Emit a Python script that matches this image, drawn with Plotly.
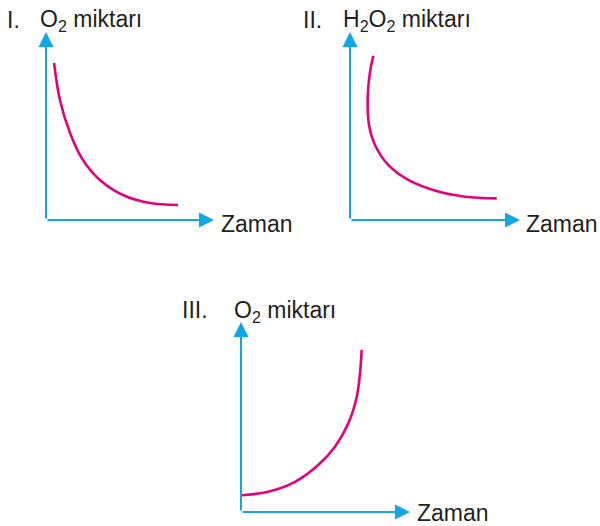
import plotly.graph_objects as go

W, H = 600, 526
AXIS_COLOUR = "#12a7e2"
CURVE_COLOUR = "#e5007d"
TEXT_COLOUR = "#231f20"
FONT = "Liberation Sans, Arial, sans-serif"

# curve values (time 0..10, amount 0..10)
time_1 = [0.48, 0.83, 1.43, 2.2, 3.21, 4.58, 6.19, 7.86]
o2_1 = [8.35, 6.38, 4.63, 3.19, 2.13, 1.33, 0.90, 0.80]

time_2 = [1.37, 1.18, 1.04, 1.12, 1.47, 2.25, 3.43, 5.19, 6.76, 8.63]
h2o2_2 = [8.74, 7.89, 6.47, 5.05, 3.99, 2.93, 2.13, 1.51, 1.24, 1.15]

time_3 = [0.05, 1.62, 3.20, 4.57, 5.56, 6.35, 6.85, 7.04, 7.14]
o2_3 = [0.88, 1.07, 1.59, 2.47, 3.44, 4.67, 6.07, 7.30, 8.53]

numerals = ["I.", "II.", "III."]
y_titles = ["O<sub>2</sub> miktarı", "H<sub>2</sub>O<sub>2</sub> miktarı", "O<sub>2</sub> miktarı"]
x_title = "Zaman"

# panel boxes in pixels: origin x, origin y, arrow tip x, arrow tip y
panels = [
    (46, 220, 214, 32),
    (350, 220, 520, 32),
    (241, 512, 410, 322),
]
# label positions in pixels: numeral (x, y), y title (x, y), x title (x, y)
label_pos = [
    ((5, 20), (38, 21), (219, 224)),
    ((301, 20), (341, 21), (524, 224)),
    ((180, 310), (232, 311), (415, 513)),
]

PAD = 0.5
fig = go.Figure()
series = [(time_1, o2_1), (time_2, h2o2_2), (time_3, o2_3)]

for i, ((ox, oy, tx, ty), (xs, ys)) in enumerate(zip(panels, series)):
    n = "" if i == 0 else str(i + 1)
    sx = (tx - ox) / 10
    sy = (oy - ty) / 10
    fig.add_trace(go.Scatter(
        x=xs, y=ys, mode="lines",
        line={"color": CURVE_COLOUR, "width": 2.6, "shape": "spline", "smoothing": 1.0},
        xaxis="x" + n, yaxis="y" + n, showlegend=False, hoverinfo="skip",
    ))
    fig.update_layout({
        "xaxis" + n: {
            "domain": [(ox - PAD * sx) / W, (tx + PAD * sx) / W],
            "range": [-PAD, 10 + PAD], "visible": False, "anchor": "y" + n,
        },
        "yaxis" + n: {
            "domain": [1 - (oy + PAD * sy) / H, 1 - (ty - PAD * sy) / H],
            "range": [-PAD, 10 + PAD], "visible": False, "anchor": "x" + n,
        },
    })
    # axis arrows
    for hx, hy in [(10, 0), (0, 10)]:
        fig.add_annotation(
            x=hx, y=hy, ax=0, ay=0, xref="x" + n, yref="y" + n,
            axref="x" + n, ayref="y" + n, text="", showarrow=True,
            arrowhead=2, arrowsize=1.5, arrowwidth=2, arrowcolor=AXIS_COLOUR,
        )
    (nx, ny), (yx, yy), (xx, xy) = label_pos[i]
    for text, (lx, ly) in [(numerals[i], (nx, ny)), (y_titles[i], (yx, yy)), (x_title, (xx, xy))]:
        fig.add_annotation(
            x=lx / W, y=1 - ly / H, xref="paper", yref="paper",
            text=text, showarrow=False, xanchor="left", yanchor="middle",
            font={"family": FONT, "size": 23, "color": TEXT_COLOUR},
        )

fig.update_layout(
    width=W, height=H,
    margin={"l": 0, "r": 0, "t": 0, "b": 0},
    paper_bgcolor="white", plot_bgcolor="white",
)

# drop the page's default body margin so the figure sits at the window corner
fig.write_html(
    "out.html",
    config={"displayModeBar": False},
    post_script="document.body.style.margin='0';document.body.style.overflow='hidden';",
)
